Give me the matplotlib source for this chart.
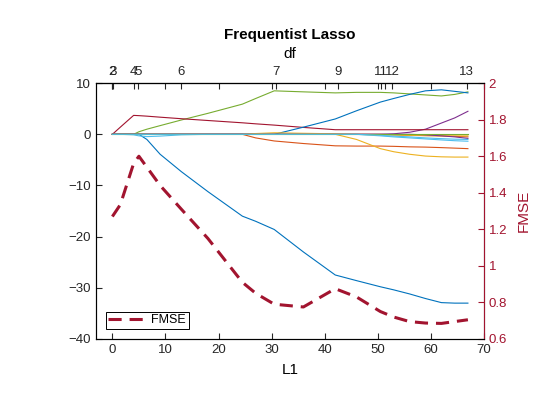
import matplotlib
matplotlib.use('Agg')
import matplotlib.pyplot as plt

plt.rcParams['font.family'] = ['Liberation Sans', 'DejaVu Sans']

# common L1 grid of the lasso path
l1 = [0, 1.5, 4, 5, 6.5, 9, 13, 18, 24.5, 27, 30.5, 36, 42, 46, 50.5, 53, 56, 59, 62, 64.5, 67]

# coefficient traces, one list per predictor (MATLAB colour order)
coef_1 = [0, 0, 0, 0, -1.0, -3.9, -7.3, -11.2, -16.0, -17.0, -18.6, -23.0, -27.5, -28.6, -29.8, -30.4, -31.2, -32.1, -32.9, -33.0, -33.0]
coef_2 = [0, 0, 0, 0, 0, 0, 0, 0, 0, -0.7, -1.3, -1.8, -2.25, -2.3, -2.3, -2.35, -2.45, -2.5, -2.6, -2.7, -2.8]
coef_3 = [0, 0, 0, 0, 0, 0, 0, 0, 0, 0, 0, 0, 0, -1.0, -2.8, -3.4, -3.9, -4.25, -4.4, -4.45, -4.45]
coef_4 = [0, 0, 0, 0, 0, 0, 0, 0, 0, 0, 0, 0, 0, 0, 0, 0.1, 0.4, 1.0, 2.2, 3.2, 4.5]
coef_5 = [0, 0, 0, 0.5, 1.0, 1.7, 2.8, 4.1, 5.9, 7.0, 8.5, 8.3, 8.1, 8.2, 8.2, 8.1, 7.9, 7.7, 7.5, 7.8, 8.3]
coef_6 = [0, 0, -0.1, -0.3, -0.45, -0.35, -0.1, 0, 0, 0, 0, 0, 0, 0, -0.3, -0.5, -0.7, -0.9, -1.1, -1.25, -1.35]
coef_7 = [0, 1.4, 3.7, 3.65, 3.55, 3.35, 3.05, 2.7, 2.25, 2.05, 1.8, 1.35, 0.9, 0.9, 0.9, 0.9, 0.9, 0.9, 0.9, 0.9, 0.9]
coef_8 = [0, 0, 0, 0, 0, 0, 0, 0, 0, 0, 0, 1.4, 3.0, 4.6, 6.3, 7.0, 7.8, 8.5, 8.7, 8.4, 8.1]
coef_9 = [0, 0, 0, 0, 0, 0, 0, 0, 0, 0, 0, 0, 0, 0, 0, -0.1, -0.2, -0.25, -0.3, -0.4, -0.5]
coef_10 = [0, 0, 0, 0, 0, 0, 0, 0, 0, 0.15, 0.3, 0.2, 0.1, 0, -0.1, -0.15, -0.2, -0.25, -0.3, -0.3, -0.3]
coef_11 = [0, 0, 0, 0, 0, 0, 0, 0, 0, 0, 0, 0, 0, 0, 0, 0, 0, -0.1, -0.3, -0.5, -0.8]
coef_12 = [0] * 21
coef_13 = [0, 0, 0, 0, 0, 0, 0, 0, 0, 0, 0, 0, 0, 0, -0.2, -0.35, -0.5, -0.7, -0.85, -0.95, -1.0]
coefs = [coef_1, coef_2, coef_3, coef_4, coef_5, coef_6, coef_7,
         coef_8, coef_9, coef_10, coef_11, coef_12, coef_13]

fmse = [1.27, 1.335, 1.56, 1.60, 1.54, 1.44, 1.31, 1.15, 0.91, 0.85, 0.79, 0.775,
        0.875, 0.83, 0.75, 0.72, 0.695, 0.687, 0.685, 0.695, 0.705]

# degrees of freedom shown on the top axis
df_pos = [-0.15, 0.1, 4.0, 4.8, 13.0, 30.75, 42.45, 50.6, 51.4, 52.7, 66.8]
df_labels = ['2', '3', '4', '5', '6', '7', '9', '11', '', '12', '13']

matlab_colors = ['#0072BD', '#D95319', '#EDB120', '#7E2F8E', '#77AC30', '#4DBEEE', '#A2142F']
red = '#A2142F'

fig = plt.figure(figsize=(5.6, 4.2), dpi=100)
ax = fig.add_axes([0.171, 0.193, 0.693, 0.609])

for i, c in enumerate(coefs):
    ax.plot(l1, c, color=matlab_colors[i % 7], lw=0.8)

ax.set_xlim(-3.13, 70)
ax.set_ylim(-40, 10)
ax.set_xticks(range(0, 71, 10))
ax.set_yticks(range(-40, 11, 10))
ax.tick_params(direction='in', labelsize=9.5, length=4, top=True, labeltop=False,
               colors='#262626')
ax.set_xlabel('L1', fontsize=11, labelpad=5)
for s in ax.spines.values():
    s.set_color('#262626')
    s.set_linewidth(0.8)

ax2 = ax.twinx()
ax2.plot(l1, fmse, color=red, lw=2.2, ls=(0, (4.3, 2.6)), label='FMSE')
ax2.set_ylim(0.6, 2)
ax2.set_yticks([0.6, 0.8, 1, 1.2, 1.4, 1.6, 1.8, 2])
ax2.set_yticklabels(['0.6', '0.8', '1', '1.2', '1.4', '1.6', '1.8', '2'])
ax2.tick_params(direction='in', labelsize=9.5, length=4, colors=red)
ax2.spines['right'].set_color(red)
ax2.spines['right'].set_linewidth(0.8)
ax2.set_ylabel('FMSE', color=red, fontsize=11, labelpad=7)
leg = ax2.legend(loc='lower left', bbox_to_anchor=(0.026, 0.04), fontsize=9,
                 fancybox=False, edgecolor='black', framealpha=1, borderpad=0.2,
                 handlelength=3.0, handletextpad=0.45, borderaxespad=0)
leg.get_frame().set_linewidth(0.7)

top = ax.secondary_xaxis('top')
top.set_xticks(df_pos)
top.set_xticklabels(df_labels)
top.tick_params(direction='in', labelsize=9.5, length=4, colors='#262626', pad=3.5)
top.set_xlabel('df', fontsize=11, labelpad=6)

fig.text(0.518, 0.917, 'Frequentist Lasso', ha='center', va='center',
         fontsize=11, fontweight='bold')

fig.savefig('out.png', dpi=100)
